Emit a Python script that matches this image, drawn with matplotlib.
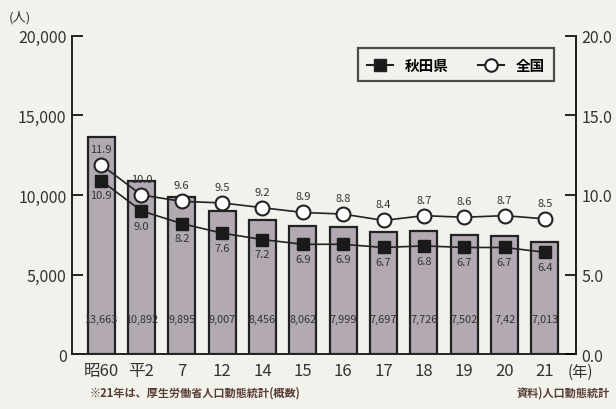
import matplotlib
matplotlib.use("Agg")
import matplotlib.pyplot as plt
from matplotlib.lines import Line2D

plt.rcParams['font.family'] = ['Noto Sans CJK JP', 'DejaVu Sans']

categories = ['昭60', '平2', '7', '12', '14', '15', '16', '17', '18', '19', '20', '21']
births = [13663, 10892, 9895, 9007, 8456, 8062, 7999, 7697, 7726, 7502, 7420, 7013]
birth_labels = ['13,663', '10,892', '9,895', '9,007', '8,456', '8,062', '7,999',
                '7,697', '7,726', '7,502', '7,42', '7,013']
akita_rate = [10.9, 9.0, 8.2, 7.6, 7.2, 6.9, 6.9, 6.7, 6.8, 6.7, 6.7, 6.4]
national_rate = [11.9, 10.0, 9.6, 9.5, 9.2, 8.9, 8.8, 8.4, 8.7, 8.6, 8.7, 8.5]
left_ticks = [0, 5000, 10000, 15000, 20000]
left_ticklabels = ['0', '5,000', '10,000', '15,000', '20,000']
right_ticks = [0, 5, 10, 15, 20]
right_ticklabels = ['0.0', '5.0', '10.0', '15.0', '20.0']

bg = '#f1f2ec'
fig = plt.figure(figsize=(6.16, 4.10), dpi=100, facecolor=bg)
ax = fig.add_axes([0.117, 0.134, 0.818, 0.776])
ax.set_facecolor(bg)
x = list(range(len(categories)))
ax.bar(x, births, width=0.67, color='#b2a9b2', edgecolor='#222222', linewidth=1.6, zorder=2)
ax.set_xlim(-0.72, 11.77)
ax.set_ylim(0, 20000)
ax.set_yticks(left_ticks)
ax.set_yticklabels(left_ticklabels, fontsize=11.5, color='#333333')
ax.set_xticks(x)
ax.set_xticklabels(categories, fontsize=12, color='#333333')
ax.tick_params(axis='x', length=0, pad=6)
ax.tick_params(axis='y', direction='in', length=8, width=1.2, pad=4)
ax.spines['top'].set_visible(False)
for s in ['left', 'right', 'bottom']:
    ax.spines[s].set_linewidth(1.4)
    ax.spines[s].set_color('#222222')

for xi, lab in zip(x, birth_labels):
    ax.text(xi, 2200, lab, ha='center', va='center', fontsize=7.8, color='#333333', zorder=3)

ax2 = ax.twinx()
ax2.set_ylim(0, 20)
ax2.set_yticks(right_ticks)
ax2.set_yticklabels(right_ticklabels, fontsize=11.5, color='#333333')
ax2.tick_params(axis='y', direction='in', length=8, width=1.2, pad=4)
for s in ['top', 'left', 'bottom']:
    ax2.spines[s].set_visible(False)
ax2.spines['right'].set_linewidth(1.4)
ax2.spines['right'].set_color('#222222')

ax2.plot(x, national_rate, color='#222222', lw=1.2, marker='o', markersize=10,
         markerfacecolor='white', markeredgecolor='#222222', markeredgewidth=1.5, zorder=4)
ax2.plot(x, akita_rate, color='#222222', lw=1.2, marker='s', markersize=9,
         markerfacecolor='#1a1a1a', markeredgecolor='#1a1a1a', zorder=4)
for xi, v in zip(x, national_rate):
    ax2.annotate(f'{v:.1f}', (xi, v), xytext=(0, 8), textcoords='offset points',
                 ha='center', va='bottom', fontsize=8, color='#333333')
for xi, v in zip(x, akita_rate):
    ax2.annotate(f'{v:.1f}', (xi, v), xytext=(0, -7), textcoords='offset points',
                 ha='center', va='top', fontsize=8, color='#333333')

handles = [Line2D([], [], color='#222222', lw=1.5, marker='s', markersize=9,
                  markerfacecolor='#1a1a1a', markevery=[0]),
           Line2D([], [], color='#222222', lw=1.5, marker='o', markersize=9,
                  markerfacecolor='white', markeredgewidth=1.5, markevery=[0])]
leg = ax2.legend(handles, ['秋田県', '全国'], loc='upper right', bbox_to_anchor=(0.97, 0.985),
                 ncol=2, frameon=True, fancybox=False, edgecolor='#222222',
                 handlelength=1.8, columnspacing=2.0, borderpad=0.6,
                 prop={'weight': 'bold', 'size': 10.5})
leg.get_frame().set_linewidth(1.6)
leg.get_frame().set_facecolor(bg)

fig.text(0.015, 0.948, '(人)', fontsize=9.5, color='#333333')
fig.text(0.922, 0.093, '(年)', fontsize=11, color='#333333', va='center')
fig.text(0.145, 0.032, '※21年は、厚生労働省人口動態統計(概数)', fontsize=8, weight='bold', color='#5a3e36')
fig.text(0.99, 0.032, '資料)人口動態統計', fontsize=8, weight='bold', color='#5a3e36', ha='right')

fig.savefig('out.png', dpi=100, facecolor=bg)
